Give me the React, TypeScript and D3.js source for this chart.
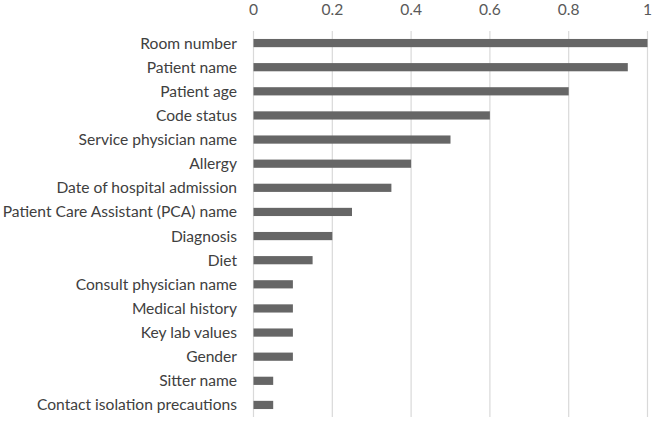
import React from "react";
import * as d3 from "d3";

const categories = [
  "Room number",
  "Patient name",
  "Patient age",
  "Code status",
  "Service physician name",
  "Allergy",
  "Date of hospital admission",
  "Patient Care Assistant (PCA) name",
  "Diagnosis",
  "Diet",
  "Consult physician name",
  "Medical history",
  "Key lab values",
  "Gender",
  "Sitter name",
  "Contact isolation precautions",
];
const values = [1, 0.95, 0.8, 0.6, 0.5, 0.4, 0.35, 0.25, 0.2, 0.15, 0.1, 0.1, 0.1, 0.1, 0.05, 0.05];
const ticks = [0, 0.2, 0.4, 0.6, 0.8, 1];

const W = 654;
const H = 424;
const left = 253.5;
const right = 647.5;
const top = 31;
const bottom = 417;
const FONT = "Lato, 'Open Sans', sans-serif";

export default function App() {
  const x = d3.scaleLinear().domain([0, 1]).range([left, right]);
  const y = d3.scaleBand<string>().domain(categories).range([top, bottom]).paddingInner(0.66).paddingOuter(0.33);
  return (
    <svg width={W} height={H} style={{ position: "absolute", left: 0, top: 0, background: "#fff" }}>
      {ticks.map((t) => (
        <g key={t}>
          <line x1={x(t)} x2={x(t)} y1={top} y2={bottom} stroke="#d9d9d9" strokeWidth={1.2} />
          <text x={x(t)} y={15} textAnchor="middle" fontFamily={FONT} fontSize={15.6} fill="#595959">
            {d3.format("~g")(t)}
          </text>
        </g>
      ))}
      {categories.map((c, i) => (
        <g key={c}>
          <rect x={x(0)} y={y(c)!} width={x(values[i]) - x(0)} height={y.bandwidth()} fill="#666666" />
          <text
            x={237}
            y={y(c)! + y.bandwidth() / 2}
            dy="0.35em"
            textAnchor="end"
            fontFamily={FONT}
            fontSize={15.6}
            fill="#404040"
          >
            {c}
          </text>
        </g>
      ))}
    </svg>
  );
}
